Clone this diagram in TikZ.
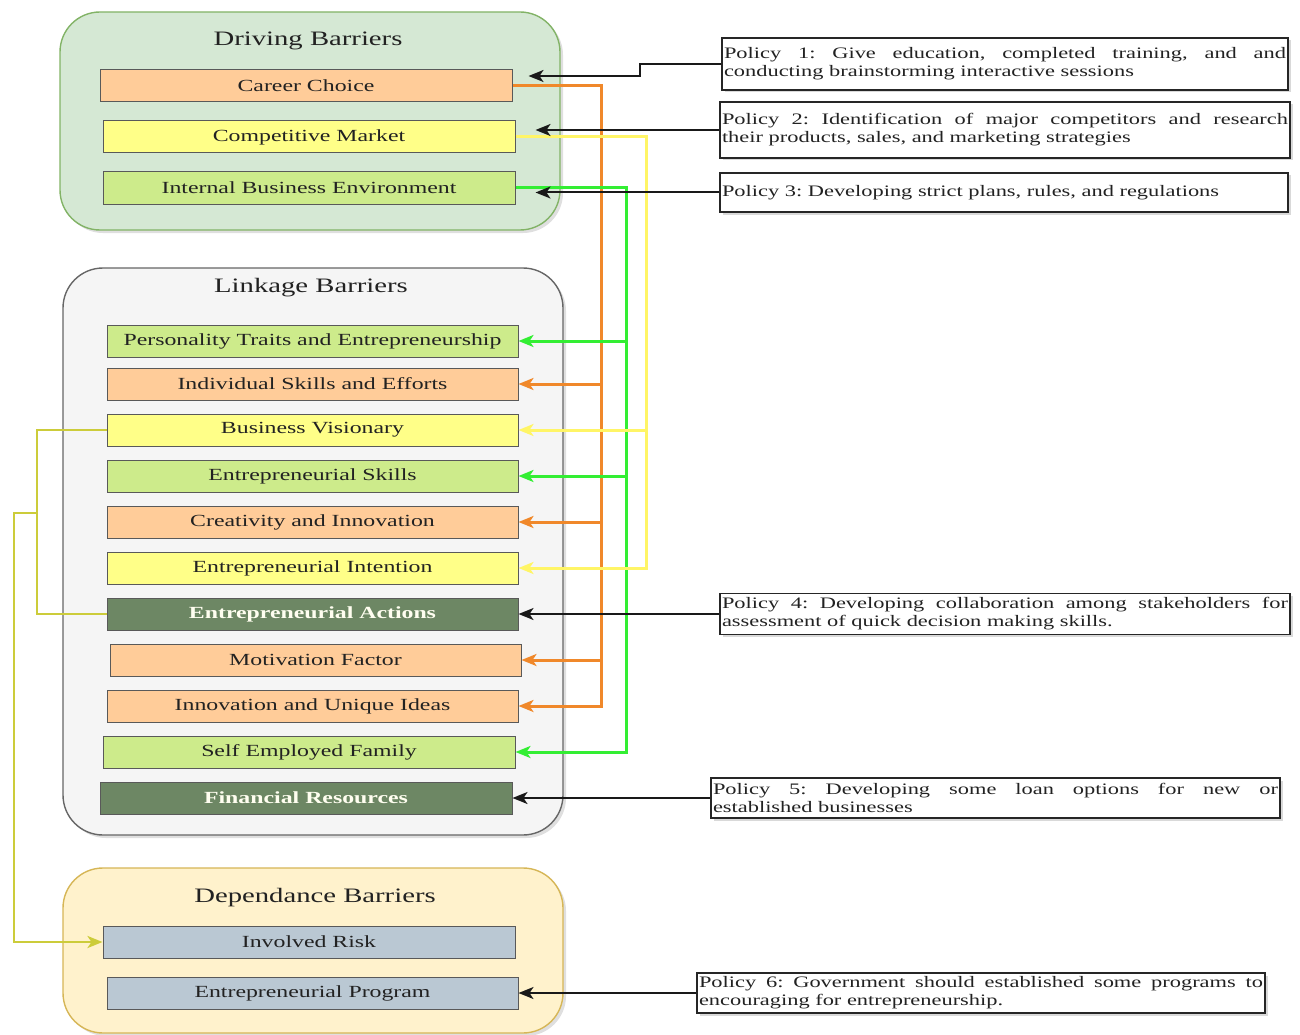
\documentclass[tikz,border=0pt]{standalone}
\usepackage{fontspec}
\setmainfont{Liberation Serif}[FakeStretch=1.4]
\usetikzlibrary{arrows.meta,shadows,calc}
\definecolor{orfill}{HTML}{FFCC99}
\definecolor{yefill}{HTML}{FFFF88}
\definecolor{grfill}{HTML}{CDEB8B}
\definecolor{dgfill}{HTML}{6D8764}
\definecolor{bgfill}{HTML}{BAC8D3}
\definecolor{drvfill}{HTML}{D5E8D4}
\definecolor{drvline}{HTML}{82B366}
\definecolor{lnkfill}{HTML}{F5F5F5}
\definecolor{lnkline}{HTML}{666666}
\definecolor{depfill}{HTML}{FFF2CC}
\definecolor{depline}{HTML}{D6B656}
\definecolor{orline}{HTML}{F0882A}
\definecolor{yeline}{HTML}{FFF566}
\definecolor{grline}{HTML}{33EE33}
\definecolor{olline}{HTML}{CCCC3A}
\definecolor{txt}{HTML}{222222}
\frenchspacing
\begin{document}
\begin{tikzpicture}[x=1pt,y=-1pt,
  grp/.style={draw, line width=1.4pt, rounded corners=40pt, drop shadow={opacity=0.25, shadow xshift=3pt, shadow yshift=-3pt}},
  ttl/.style={text=txt, font=\fontsize{20.5}{24}\selectfont},
  bar/.style={draw=black!65, line width=1pt, minimum height=32pt, inner sep=0pt, text=txt, font=\fontsize{17}{20}\selectfont},
  orb/.style={bar, fill=orfill},
  yeb/.style={bar, fill=yefill},
  grb/.style={bar, fill=grfill},
  dgb/.style={bar, fill=dgfill, text=white!94!yellow, font=\fontsize{17}{20}\selectfont\bfseries},
  bgb/.style={bar, fill=bgfill},
  pol/.style={draw=black!85, line width=1.2pt, fill=white, inner xsep=2pt, inner ysep=2pt, align=justify, text=txt, font=\fontsize{16}{18}\selectfont, drop shadow={opacity=0.3, shadow xshift=2.5pt, shadow yshift=-2.5pt}},
  tip/.style={-{Stealth[length=15pt, width=12pt, inset=4pt]}},
  blk/.style={tip, line width=2pt, draw=black!90},
  orc/.style={tip, line width=3pt, draw=orline},
  yec/.style={tip, line width=3pt, draw=yeline},
  grc/.style={tip, line width=3pt, draw=grline},
  olc/.style={line width=2.6pt, draw=olline}
]
\useasboundingbox (0,0) rectangle (1300,1035);
% groups
\node[grp, fill=drvfill, draw=drvline, minimum width=500pt, minimum height=218pt] (drv) at (310,121) {};
\node[grp, fill=lnkfill, draw=lnkline, minimum width=500pt, minimum height=567pt] (lnk) at (313,551.5) {};
\node[grp, fill=depfill, draw=depline, minimum width=500pt, minimum height=165pt] (dep) at (313,950.5) {};
\node[ttl] (tdrv) at (308,41) {Driving Barriers};
\node[ttl] (tlnk) at (311,288) {Linkage Barriers};
\node[ttl] (tdep) at (315,898) {Dependance Barriers};
% driving
\node[orb, minimum width=412pt] (cc) at (306,86) {Career Choice};
\node[yeb, minimum width=412pt] (cm) at (309,137) {Competitive Market};
\node[grb, minimum width=412pt] (ibe) at (309,188) {Internal Business Environment};
% linkage
\node[grb, minimum width=411pt] (pte) at (312.5,341) {Personality Traits and Entrepreneurship};
\node[orb, minimum width=411pt] (ise) at (312.5,384) {Individual Skills and Efforts};
\node[yeb, minimum width=411pt] (bv) at (312.5,430) {Business Visionary};
\node[grb, minimum width=411pt] (es) at (312.5,476) {Entrepreneurial Skills};
\node[orb, minimum width=411pt] (ci) at (312.5,522) {Creativity and Innovation};
\node[yeb, minimum width=411pt] (ei) at (312.5,568) {Entrepreneurial Intention};
\node[dgb, minimum width=411pt] (ea) at (312.5,614) {Entrepreneurial Actions};
\node[orb, minimum width=411pt] (mf) at (315.5,660) {Motivation Factor};
\node[orb, minimum width=411pt] (iui) at (312.5,706) {Innovation and Unique Ideas};
\node[grb, minimum width=412pt] (sef) at (309,752) {Self Employed Family};
\node[dgb, minimum width=412pt] (fr) at (306,798) {Financial Resources};
% dependance
\node[bgb, minimum width=412pt] (ir) at (309,942) {Involved Risk};
\node[bgb, minimum width=411pt] (ep) at (312.5,993) {Entrepreneurial Program};
% policies
\node[pol, text width=562pt, minimum height=52pt] (p1) at (1005,64) {Policy 1: Give education, completed training, and and\linebreak conducting brainstorming interactive sessions};
\node[pol, text width=566pt, minimum height=56pt] (p2) at (1005,130) {Policy 2: Identification of major competitors and research\linebreak their products, sales, and marketing strategies};
\node[pol, text width=564pt, minimum height=39pt] (p3) at (1004,192.5) {Policy 3: Developing strict plans, rules, and regulations};
\node[pol, text width=566pt, minimum height=41pt] (p4) at (1005,614) {Policy 4: Developing collaboration among stakeholders for\linebreak assessment of quick decision making skills.};
\node[pol, text width=565pt, minimum height=40pt] (p5) at (995.5,798) {Policy 5: Developing some loan options for new or\linebreak established businesses};
\node[pol, text width=564pt, minimum height=40pt] (p6) at (981,993) {Policy 6: Government should established some programs to\linebreak encouraging for entrepreneurship.};
% trunk x positions
\coordinate (ox) at (601,0);
\coordinate (gx) at (626,0);
\coordinate (yx) at (646,0);
\coordinate (lx1) at (37,0);
\coordinate (lx2) at (14,0);
% orange
\draw[orc] (cc.east) -- (ox |- cc.east) -- (ox |- iui.east) -- (iui.east);
\draw[orc] (ox |- ise.east) -- (ise.east);
\draw[orc] (ox |- ci.east) -- (ci.east);
\draw[orc] (ox |- mf.east) -- (mf.east);
% green
\draw[grc] (ibe.east) -- (gx |- ibe.east) -- (gx |- sef.east) -- (sef.east);
\draw[grc] (gx |- pte.east) -- (pte.east);
\draw[grc] (gx |- es.east) -- (es.east);
% yellow
\draw[yec] (cm.east) -- (yx |- cm.east) -- (yx |- ei.east) -- (ei.east);
\draw[yec] (yx |- bv.east) -- (bv.east);
% left olive
\draw[olc] (bv.west) -- (lx1 |- bv.west) -- (lx1 |- ea.west) -- (ea.west);
\coordinate (lj) at (37,513);
\draw[olc, tip] (lj) -- (lx2 |- lj) -- (lx2 |- ir.west) -- (ir.west);
% black policy arrows
\coordinate (a1) at ($(cc.east)+(16,-10)$);
\coordinate (a2) at ($(cm.east)+(20,-7)$);
\coordinate (a3) at ($(ibe.east)+(20,4.5)$);
\coordinate (b1) at (640,0);
\draw[blk] (p1.west) -- (b1 |- p1.west) -- (b1 |- a1) -- (a1);
\draw[blk] (p2.west) -- (a2);
\draw[blk] (p3.west) -- (a3);
\draw[blk] (p4.west) -- (ea.east);
\draw[blk] (p5.west) -- (fr.east);
\draw[blk] (p6.west) -- (ep.east);
\end{tikzpicture}
\end{document}
